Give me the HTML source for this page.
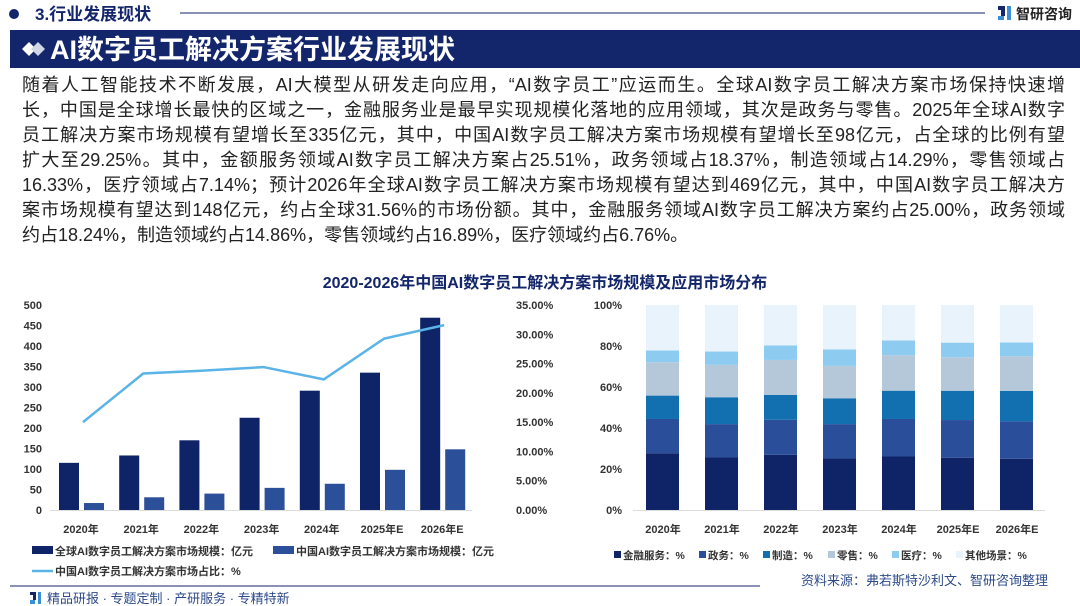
<!DOCTYPE html>
<html><head><meta charset="utf-8">
<style>
body{margin:0;width:1080px;height:606px;overflow:hidden;background:#fff;font-family:"Liberation Sans","Noto Sans CJK SC",sans-serif;}
#wrap{position:relative;width:1080px;height:606px;}
.para{position:absolute;left:22px;top:73px;width:1043px;font-size:18px;line-height:25px;color:#222;}
.para div{text-align:justify;text-align-last:justify;white-space:nowrap;height:25px;}
.para div.last{text-align-last:left;}
</style></head><body>
<div id="wrap">
<svg width="1080" height="606" style="position:absolute;left:0;top:0" id="svg">
  <circle cx="14" cy="14" r="5" fill="#13256b"/>
  <text x="35" y="20" font-size="17" font-weight="bold" fill="#13256b">3.行业发展现状</text>
  <line x1="180" y1="13" x2="985" y2="13" stroke="#13256b" stroke-width="1"/>
  <g>
    <rect x="998" y="6" width="7" height="4" fill="#13256b"/><rect x="1001" y="10" width="4" height="6" fill="#13256b"/><rect x="1007" y="6" width="4" height="14" fill="#3b8fd6"/><rect x="998" y="16" width="6" height="4" fill="#3b8fd6"/>
    <text x="1016" y="19" font-size="14" font-weight="bold" fill="#222">智研咨询</text>
  </g>
  <rect x="10" y="30" width="1070" height="38" fill="#13256b"/>
  <g>
    <polygon points="22,49 29,42 36,49 29,56" fill="#fff"/><polygon points="31,49 38,42 45,49 38,56" fill="#cfd6e6"/>
  </g>
  <text x="50" y="59" font-size="27" font-weight="bold" fill="#fff">AI数字员工解决方案行业发展现状</text>
  <text x="545" y="288" font-size="16" font-weight="bold" fill="#13256b" text-anchor="middle">2020-2026年中国AI数字员工解决方案市场规模及应用市场分布</text>
  <g id="left"></g>
  <g id="right"></g>
  <line x1="10" y1="586" x2="760" y2="586" stroke="#13256b" stroke-width="1"/>
  <text x="1048" y="585" font-size="13" fill="#2d4a8a" text-anchor="end">资料来源：弗若斯特沙利文、智研咨询整理</text>
  <g>
    <rect x="30" y="592" width="6" height="3" fill="#13256b"/><rect x="33" y="595" width="3" height="5" fill="#13256b"/><rect x="38" y="592" width="3" height="12" fill="#3b8fd6"/><rect x="30" y="600" width="5" height="4" fill="#3b8fd6"/>
  </g>
  <text x="47" y="603" font-size="13" fill="#2d4a8a">精品研报 · 专题定制 · 产研服务 · 专精特新</text>
</svg>
<div class="para">
<div>随着人工智能技术不断发展，AI大模型从研发走向应用，“AI数字员工”应运而生。全球AI数字员工解决方案市场保持快速增</div>
<div>长，中国是全球增长最快的区域之一，金融服务业是最早实现规模化落地的应用领域，其次是政务与零售。2025年全球AI数字</div>
<div>员工解决方案市场规模有望增长至335亿元，其中，中国AI数字员工解决方案市场规模有望增长至98亿元，占全球的比例有望</div>
<div>扩大至29.25%。其中，金额服务领域AI数字员工解决方案占25.51%，政务领域占18.37%，制造领域占14.29%，零售领域占</div>
<div>16.33%，医疗领域占7.14%；预计2026年全球AI数字员工解决方案市场规模有望达到469亿元，其中，中国AI数字员工解决方</div>
<div>案市场规模有望达到148亿元，约占全球31.56%的市场份额。其中，金融服务领域AI数字员工解决方案约占25.00%，政务领域</div>
<div class="last">约占18.24%，制造领域约占14.86%，零售领域约占16.89%，医疗领域约占6.76%。</div>
</div>
</div>
<script>
const years = ["2020年","2021年","2022年","2023年","2024年","2025年E","2026年E"];
const globalSize = [115,133,170,225,291,335,469];
const chinaSize = [17,31,40,54,64,98,148];
const chinaShare = [15.0,23.3,23.8,24.4,22.3,29.25,31.56];
const leftTicks = [0,50,100,150,200,250,300,350,400,450,500];
const rightTicks = [0,5,10,15,20,25,30,35];
const segNames = ["金融服务：%","政务：%","制造：%","零售：%","医疗：%","其他场景：%"];
const finance = [27.7,25.6,26.9,25.1,26.1,25.51,25.0];
const gov = [16.7,16.3,17.1,16.8,18.3,18.37,18.24];
const manuf = [11.4,13.1,12.1,12.6,13.8,14.29,14.86];
const retail = [16.3,15.8,17.1,15.8,17.3,16.33,16.89];
const medical = [5.7,6.5,7.1,8.0,7.2,7.14,6.76];
const pctTicks = [0,20,40,60,80,100];

const NS="http://www.w3.org/2000/svg";
function mk(parent,tag,attrs,text){const e=document.createElementNS(NS,tag);for(const k in attrs)e.setAttribute(k,attrs[k]);if(text!=null)e.textContent=text;parent.appendChild(e);return e;}
const L=document.getElementById('left'), R=document.getElementById('right');
const y0=510,y1=305;
const yL=v=>y0-(v/500)*(y0-y1);
const yR=v=>y0-(v/35)*(y0-y1);
const xC=i=>85+i*60.2;
leftTicks.forEach(t=>{const e=mk(L,'text',{x:42,y:yL(t)+4,'font-size':11,'font-weight':'bold',fill:'#333','text-anchor':'end'},t);

});
rightTicks.forEach(t=>{const e=mk(L,'text',{x:516,y:yR(t)+4,'font-size':11,'font-weight':'bold',fill:'#333'},t.toFixed(2)+'%');

});
const ax=mk(L,'line',{x1:50,y1:y0+0.5,x2:472,y2:y0+0.5,stroke:'#ddd'});


years.forEach((yr,i)=>{
 const g=mk(L,'rect',{x:xC(i)-26,y:yL(globalSize[i]),width:20,height:y0-yL(globalSize[i]),fill:'#0f2466'});
 
 
 const c=mk(L,'rect',{x:xC(i)-1,y:yL(chinaSize[i]),width:20,height:y0-yL(chinaSize[i]),fill:'#2c4f9a'});
 
 
 const t=mk(L,'text',{x:xC(i)-4,y:533,'font-size':11,'font-weight':'bold',fill:'#333','text-anchor':'middle'},yr);
 
 
});
const pts=chinaShare.map((v,i)=>(xC(i)-2)+','+yR(v)).join(' ');
const pl=mk(L,'polyline',{points:pts,fill:'none',stroke:'#5ab4e8','stroke-width':2.5});


[[32,546,'#0f2466','全球AI数字员工解决方案市场规模：亿元'],[273,546,'#2c4f9a','中国AI数字员工解决方案市场规模：亿元']].forEach(d=>{
 const r=mk(L,'rect',{x:d[0],y:d[1],width:21,height:8,fill:d[2]});
 
 
 const t=mk(L,'text',{x:d[0]+23,y:d[1]+9,'font-size':11,'font-weight':'bold',fill:'#333'},d[3]);
 
 
});
const ll=mk(L,'line',{x1:32,y1:571,x2:53,y2:571,stroke:'#5ab4e8','stroke-width':2.5});


const lt=mk(L,'text',{x:55,y:575,'font-size':11,'font-weight':'bold',fill:'#333'},'中国AI数字员工解决方案市场占比：%');



const yP=v=>y0-(v/100)*(y0-y1);
const xR=i=>663+i*59;
const colors=['#0f2466','#2b4e9b','#1270b0','#b4c8da','#8ecbf0','#e8f3fc'];
pctTicks.forEach(t=>{const e=mk(R,'text',{x:622,y:yP(t)+4,'font-size':11,'font-weight':'bold',fill:'#333','text-anchor':'end'},t+'%');

});
const ax2=mk(R,'line',{x1:633,y1:y0+0.5,x2:1045,y2:y0+0.5,stroke:'#ddd'});


years.forEach((yr,i)=>{
 const vals=[finance[i],gov[i],manuf[i],retail[i],medical[i]];
 vals.push(100-vals.reduce((a,b)=>a+b,0));
 let acc=0;
 vals.forEach((v,k)=>{
  const r=mk(R,'rect',{x:xR(i)-17,y:yP(acc+v),width:33,height:yP(acc)-yP(acc+v),fill:colors[k]});
  
  
  acc+=v;
 });
 const t=mk(R,'text',{x:xR(i),y:533,'font-size':11,'font-weight':'bold',fill:'#333','text-anchor':'middle'},yr);
 
 
});
const lx=[614,699,763,828,892,956];
segNames.forEach((n,k)=>{
 const r=mk(R,'rect',{x:lx[k],y:551,width:7,height:7,fill:colors[k]});
 
 
 const t=mk(R,'text',{x:lx[k]+9,y:559,'font-size':10.5,'font-weight':'bold',fill:'#333'},n);
 
 
});
</script>
</body></html>
